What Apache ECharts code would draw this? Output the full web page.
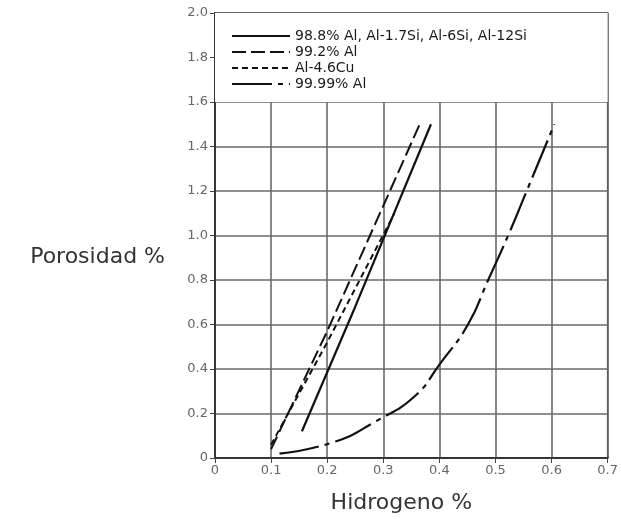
<!DOCTYPE html>
<html>
<head>
<meta charset="utf-8">
<script src="https://cdn.jsdelivr.net/npm/echarts@6/dist/echarts.min.js"></script>
<style>
  html, body { margin: 0; padding: 0; background: #fff; }
  #chart { width: 621px; height: 519px; }
</style>
</head>
<body>
<div id="chart"></div>
<script>
// [hidrogeno %, porosidad %]
const al988 = [[0.155, 0.12], [0.25, 0.68], [0.385, 1.5]]
const al992 = [[0.10, 0.04], [0.20, 0.57], [0.365, 1.5]]
const alCu = [[0.10, 0.06], [0.20, 0.52], [0.32, 1.1]]
const al9999 = [
  [0.115, 0.02], [0.21, 0.07], [0.287, 0.165], [0.357, 0.28], [0.40, 0.42],
  [0.451, 0.60], [0.487, 0.80], [0.526, 1.02], [0.554, 1.19], [0.605, 1.5]
]
const seriesNames = ['98.8% Al, Al-1.7Si, Al-6Si, Al-12Si', '99.2% Al', 'Al-4.6Cu', '99.99% Al']
const xTicks = [0, 0.1, 0.2, 0.3, 0.4, 0.5, 0.6, 0.7]
const yTicks = [0, 0.2, 0.4, 0.6, 0.8, 1.0, 1.2, 1.4, 1.6, 1.8, 2.0]
const legendBand = [1.6, 2.0]

const chart = echarts.init(document.getElementById('chart'))

const gridLine = { lineStyle: { color: '#6a6a6a', width: 1.6 } }
const labelStyle = { color: '#666', fontSize: 13, fontFamily: 'DejaVu Sans, sans-serif' }

function lineSeries(name, data, type, width) {
  return {
    name,
    type: 'line',
    data,
    color: '#111',
    smooth: data.length > 3 ? 0.5 : false,
    symbol: 'none',
    z: 5,
    lineStyle: { color: '#111', width: width || 2, type }
  }
}

chart.setOption({
  animation: false,
  backgroundColor: '#fff',
  grid: { left: 215, right: 11, top: 13, bottom: 59, show: true, borderColor: '#333', borderWidth: 1.5 },
  legend: {
    data: seriesNames,
    orient: 'vertical',
    left: 226,
    top: 24,
    itemGap: 2,
    itemWidth: 58,
    itemHeight: 14,
    itemStyle: { opacity: 0 },
    textStyle: { color: '#1a1a1a', fontSize: 14, fontFamily: 'DejaVu Sans, sans-serif' }
  },
  xAxis: [
    {
      type: 'value',
      min: xTicks[0],
      max: xTicks[xTicks.length - 1],
      interval: 0.1,
      name: 'Hidrogeno %',
      nameLocation: 'middle',
      nameGap: 34,
      nameTextStyle: { color: '#333', fontSize: 22, fontFamily: 'DejaVu Sans, sans-serif', padding: [0, 20, 0, 0] },
      axisLine: { lineStyle: { color: '#333', width: 1.5 } },
      axisTick: { show: false },
      axisLabel: Object.assign({ margin: 6, formatter: v => v === 0 ? '0' : v.toFixed(1) }, labelStyle),
      splitLine: gridLine
    },
    {
      type: 'value',
      position: 'top',
      min: xTicks[0],
      max: xTicks[xTicks.length - 1],
      interval: 0.1,
      axisLine: { lineStyle: { color: '#333', width: 1.5 } },
      axisTick: { show: true, inside: true, length: 5, lineStyle: { color: '#444' } },
      axisLabel: { show: false },
      splitLine: { show: false }
    }
  ],
  yAxis: [
    {
      type: 'value',
      min: yTicks[0],
      max: yTicks[yTicks.length - 1],
      interval: 0.2,
      name: 'Porosidad %',
      nameLocation: 'middle',
      nameRotate: 0,
      nameGap: 50,
      nameTextStyle: { color: '#333', fontSize: 22, fontFamily: 'DejaVu Sans, sans-serif', verticalAlign: 'top', padding: [11, 0, 0, 0] },
      axisLine: { lineStyle: { color: '#333', width: 1.5 } },
      axisTick: { show: true, length: 4, lineStyle: { color: '#444' } },
      axisLabel: Object.assign({ margin: 7, formatter: v => v === 0 ? '0' : v.toFixed(1) }, labelStyle),
      splitLine: gridLine
    },
    {
      type: 'value',
      position: 'right',
      min: yTicks[0],
      max: yTicks[yTicks.length - 1],
      interval: 0.2,
      axisLine: { lineStyle: { color: '#333', width: 1.5 } },
      axisTick: { show: true, inside: true, length: 5, lineStyle: { color: '#444' } },
      axisLabel: { show: false },
      splitLine: { show: false }
    }
  ],
  series: [
    Object.assign(lineSeries(seriesNames[0], al988, 'solid', 2.2), {
      markArea: {
        silent: true,
        z: 1,
        itemStyle: { color: '#fff' },
        data: [[{ xAxis: xTicks[0], yAxis: legendBand[0] }, { xAxis: xTicks[xTicks.length - 1], yAxis: legendBand[1] }]]
      }
    }),
    lineSeries(seriesNames[1], al992, [14, 5]),
    lineSeries(seriesNames[2], alCu, [6, 4]),
    lineSeries(seriesNames[3], al9999, [40, 6, 5, 6], 2.2)
  ]
})
</script>
</body>
</html>
